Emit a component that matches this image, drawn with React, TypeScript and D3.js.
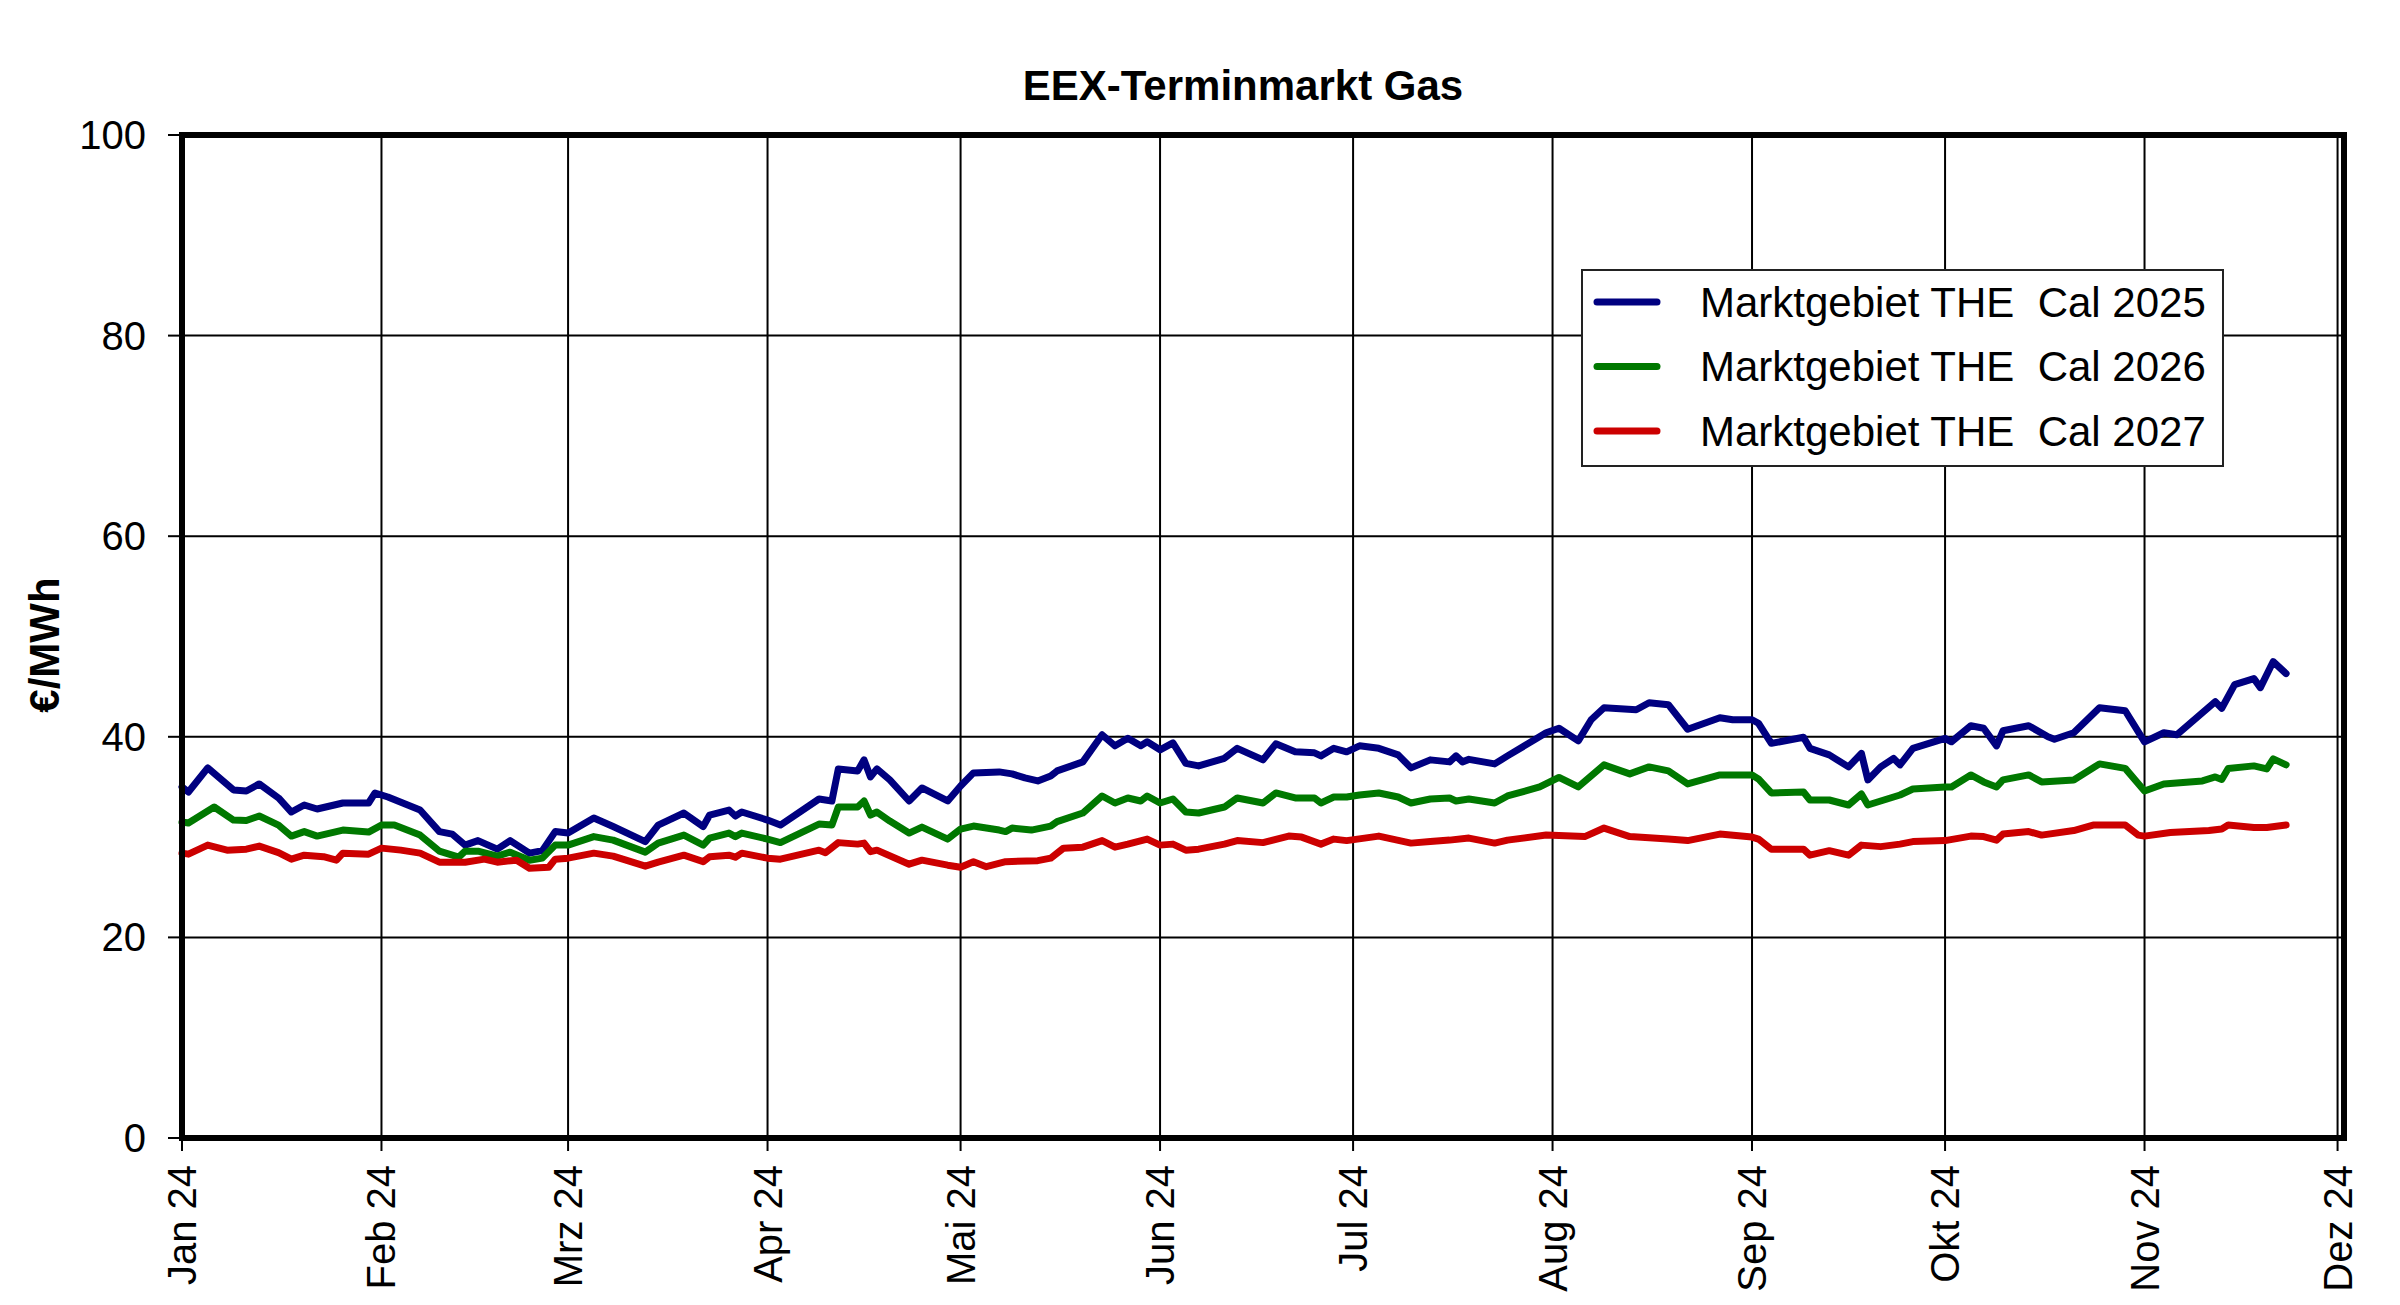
import React, { useEffect } from "react";
import * as d3 from "d3";

const title = "EEX-Terminmarkt Gas";
const yLabel = "€/MWh";
const yTicks = [0, 20, 40, 60, 80, 100];
const monthStarts = ["2024-01-01","2024-02-01","2024-03-01","2024-04-01","2024-05-01","2024-06-01","2024-07-01","2024-08-01","2024-09-01","2024-10-01","2024-11-01","2024-12-01"];
const monthLabels = ["Jan 24","Feb 24","Mrz 24","Apr 24","Mai 24","Jun 24","Jul 24","Aug 24","Sep 24","Okt 24","Nov 24","Dez 24"];
const xDomain = ["2024-01-01", "2024-12-02"];
const seriesNames = ["Marktgebiet THE  Cal 2025", "Marktgebiet THE  Cal 2026", "Marktgebiet THE  Cal 2027"];
const seriesColors = ["#000080", "#007800", "#cc0000"];

const cal2025: [string, number][] = [
["2024-01-01",35.0],["2024-01-02",34.5],["2024-01-05",36.9],["2024-01-09",34.7],["2024-01-11",34.6],["2024-01-13",35.3],["2024-01-16",33.9],["2024-01-18",32.5],["2024-01-20",33.2],["2024-01-22",32.8],["2024-01-26",33.4],["2024-01-30",33.4],["2024-01-31",34.4],["2024-02-02",34.0],["2024-02-07",32.7],["2024-02-10",30.55],["2024-02-12",30.3],["2024-02-14",29.2],["2024-02-16",29.65],["2024-02-19",28.8],["2024-02-21",29.65],["2024-02-24",28.4],["2024-02-26",28.65],["2024-02-28",30.55],["2024-03-01",30.4],["2024-03-05",31.9],["2024-03-08",31.05],["2024-03-13",29.55],["2024-03-15",31.2],["2024-03-19",32.4],["2024-03-22",31.05],["2024-03-23",32.2],["2024-03-26",32.7],["2024-03-27",32.1],["2024-03-28",32.5],["2024-04-01",31.7],["2024-04-03",31.2],["2024-04-09",33.8],["2024-04-11",33.6],["2024-04-12",36.8],["2024-04-15",36.6],["2024-04-16",37.7],["2024-04-17",36.0],["2024-04-18",36.8],["2024-04-20",35.7],["2024-04-23",33.6],["2024-04-25",34.9],["2024-04-29",33.6],["2024-05-01",35.1],["2024-05-03",36.4],["2024-05-07",36.5],["2024-05-09",36.3],["2024-05-11",35.9],["2024-05-13",35.6],["2024-05-15",36.1],["2024-05-16",36.6],["2024-05-20",37.5],["2024-05-23",40.2],["2024-05-25",39.1],["2024-05-27",39.85],["2024-05-29",39.1],["2024-05-30",39.5],["2024-06-01",38.7],["2024-06-03",39.4],["2024-06-05",37.35],["2024-06-07",37.1],["2024-06-11",37.85],["2024-06-13",38.85],["2024-06-17",37.7],["2024-06-19",39.3],["2024-06-22",38.5],["2024-06-25",38.4],["2024-06-26",38.1],["2024-06-28",38.85],["2024-06-30",38.5],["2024-07-02",39.1],["2024-07-05",38.85],["2024-07-08",38.2],["2024-07-10",36.9],["2024-07-13",37.7],["2024-07-16",37.5],["2024-07-17",38.1],["2024-07-18",37.5],["2024-07-19",37.75],["2024-07-23",37.3],["2024-07-25",38.1],["2024-07-31",40.4],["2024-08-02",40.85],["2024-08-05",39.6],["2024-08-07",41.7],["2024-08-09",42.9],["2024-08-14",42.7],["2024-08-16",43.4],["2024-08-19",43.2],["2024-08-22",40.75],["2024-08-27",41.9],["2024-08-29",41.7],["2024-09-01",41.7],["2024-09-02",41.35],["2024-09-04",39.35],["2024-09-09",39.95],["2024-09-10",38.85],["2024-09-13",38.2],["2024-09-16",37.0],["2024-09-18",38.35],["2024-09-19",35.7],["2024-09-21",37.0],["2024-09-23",37.85],["2024-09-24",37.2],["2024-09-26",38.85],["2024-10-01",39.85],["2024-10-02",39.5],["2024-10-05",41.1],["2024-10-07",40.85],["2024-10-09",39.1],["2024-10-10",40.6],["2024-10-14",41.1],["2024-10-17",40.0],["2024-10-18",39.75],["2024-10-21",40.4],["2024-10-25",42.9],["2024-10-29",42.6],["2024-11-01",39.5],["2024-11-04",40.4],["2024-11-06",40.2],["2024-11-12",43.5],["2024-11-13",42.85],["2024-11-15",45.2],["2024-11-18",45.8],["2024-11-19",44.9],["2024-11-21",47.5],["2024-11-23",46.3]
];

const cal2026: [string, number][] = [
["2024-01-01",31.5],["2024-01-02",31.4],["2024-01-06",33.0],["2024-01-09",31.7],["2024-01-11",31.65],["2024-01-13",32.1],["2024-01-16",31.2],["2024-01-18",30.1],["2024-01-20",30.55],["2024-01-22",30.1],["2024-01-26",30.7],["2024-01-30",30.5],["2024-02-01",31.2],["2024-02-03",31.2],["2024-02-07",30.2],["2024-02-10",28.6],["2024-02-13",28.0],["2024-02-14",28.6],["2024-02-16",28.6],["2024-02-19",28.1],["2024-02-21",28.5],["2024-02-24",27.7],["2024-02-26",27.9],["2024-02-28",29.2],["2024-03-01",29.2],["2024-03-05",30.05],["2024-03-08",29.7],["2024-03-13",28.5],["2024-03-15",29.4],["2024-03-19",30.2],["2024-03-22",29.2],["2024-03-23",29.9],["2024-03-26",30.4],["2024-03-27",30.05],["2024-03-28",30.4],["2024-04-01",29.8],["2024-04-03",29.45],["2024-04-09",31.3],["2024-04-11",31.2],["2024-04-12",33.0],["2024-04-15",33.0],["2024-04-16",33.6],["2024-04-17",32.2],["2024-04-18",32.5],["2024-04-20",31.6],["2024-04-23",30.4],["2024-04-25",31.0],["2024-04-29",29.8],["2024-05-01",30.8],["2024-05-03",31.1],["2024-05-07",30.7],["2024-05-08",30.55],["2024-05-09",30.9],["2024-05-12",30.7],["2024-05-15",31.1],["2024-05-16",31.55],["2024-05-20",32.4],["2024-05-23",34.1],["2024-05-25",33.4],["2024-05-27",33.9],["2024-05-29",33.6],["2024-05-30",34.1],["2024-06-01",33.4],["2024-06-03",33.8],["2024-06-05",32.5],["2024-06-07",32.4],["2024-06-11",33.0],["2024-06-13",33.9],["2024-06-17",33.4],["2024-06-19",34.4],["2024-06-22",33.9],["2024-06-25",33.9],["2024-06-26",33.4],["2024-06-28",34.0],["2024-06-30",34.0],["2024-07-02",34.2],["2024-07-05",34.4],["2024-07-08",34.0],["2024-07-10",33.4],["2024-07-13",33.8],["2024-07-16",33.9],["2024-07-17",33.6],["2024-07-19",33.8],["2024-07-23",33.4],["2024-07-25",34.1],["2024-07-30",35.0],["2024-08-02",35.95],["2024-08-05",35.0],["2024-08-09",37.2],["2024-08-13",36.3],["2024-08-16",37.0],["2024-08-19",36.6],["2024-08-22",35.3],["2024-08-27",36.2],["2024-09-01",36.2],["2024-09-02",35.8],["2024-09-04",34.4],["2024-09-09",34.5],["2024-09-10",33.7],["2024-09-13",33.7],["2024-09-16",33.2],["2024-09-18",34.3],["2024-09-19",33.2],["2024-09-22",33.8],["2024-09-24",34.2],["2024-09-26",34.8],["2024-10-01",35.0],["2024-10-02",35.0],["2024-10-05",36.2],["2024-10-07",35.5],["2024-10-09",35.0],["2024-10-10",35.7],["2024-10-14",36.2],["2024-10-16",35.5],["2024-10-21",35.7],["2024-10-25",37.3],["2024-10-29",36.85],["2024-11-01",34.6],["2024-11-04",35.3],["2024-11-10",35.6],["2024-11-12",36.0],["2024-11-13",35.75],["2024-11-14",36.85],["2024-11-18",37.1],["2024-11-20",36.8],["2024-11-21",37.8],["2024-11-23",37.2]
];

const cal2027: [string, number][] = [
["2024-01-01",28.4],["2024-01-02",28.3],["2024-01-05",29.2],["2024-01-08",28.7],["2024-01-11",28.8],["2024-01-13",29.1],["2024-01-16",28.45],["2024-01-18",27.8],["2024-01-20",28.2],["2024-01-23",28.05],["2024-01-25",27.7],["2024-01-26",28.4],["2024-01-30",28.3],["2024-02-01",28.9],["2024-02-04",28.7],["2024-02-07",28.4],["2024-02-10",27.5],["2024-02-14",27.5],["2024-02-17",27.8],["2024-02-19",27.5],["2024-02-22",27.7],["2024-02-24",26.9],["2024-02-27",27.0],["2024-02-28",27.8],["2024-03-01",27.9],["2024-03-05",28.4],["2024-03-08",28.1],["2024-03-13",27.1],["2024-03-15",27.5],["2024-03-19",28.2],["2024-03-22",27.55],["2024-03-23",28.05],["2024-03-26",28.2],["2024-03-27",28.0],["2024-03-28",28.4],["2024-04-01",27.9],["2024-04-03",27.8],["2024-04-09",28.7],["2024-04-10",28.45],["2024-04-12",29.45],["2024-04-15",29.3],["2024-04-16",29.4],["2024-04-17",28.55],["2024-04-18",28.7],["2024-04-23",27.3],["2024-04-25",27.7],["2024-04-29",27.2],["2024-05-01",27.0],["2024-05-03",27.55],["2024-05-05",27.05],["2024-05-08",27.55],["2024-05-13",27.65],["2024-05-15",27.9],["2024-05-17",28.9],["2024-05-20",29.0],["2024-05-23",29.65],["2024-05-25",29.0],["2024-05-27",29.3],["2024-05-30",29.8],["2024-06-01",29.2],["2024-06-03",29.3],["2024-06-05",28.7],["2024-06-07",28.8],["2024-06-11",29.3],["2024-06-13",29.65],["2024-06-17",29.45],["2024-06-21",30.1],["2024-06-23",30.0],["2024-06-26",29.3],["2024-06-28",29.8],["2024-06-30",29.65],["2024-07-05",30.1],["2024-07-10",29.4],["2024-07-13",29.55],["2024-07-16",29.7],["2024-07-19",29.9],["2024-07-23",29.4],["2024-07-25",29.7],["2024-07-31",30.2],["2024-08-06",30.05],["2024-08-09",30.9],["2024-08-13",30.05],["2024-08-19",29.8],["2024-08-22",29.65],["2024-08-27",30.3],["2024-09-01",30.0],["2024-09-02",29.8],["2024-09-04",28.8],["2024-09-09",28.8],["2024-09-10",28.2],["2024-09-13",28.65],["2024-09-16",28.2],["2024-09-18",29.2],["2024-09-21",29.05],["2024-09-24",29.3],["2024-09-26",29.55],["2024-10-01",29.65],["2024-10-05",30.1],["2024-10-07",30.05],["2024-10-09",29.7],["2024-10-10",30.3],["2024-10-14",30.55],["2024-10-16",30.2],["2024-10-21",30.65],["2024-10-24",31.2],["2024-10-29",31.2],["2024-10-31",30.2],["2024-11-01",30.1],["2024-11-05",30.45],["2024-11-11",30.65],["2024-11-13",30.8],["2024-11-14",31.2],["2024-11-18",30.95],["2024-11-20",30.95],["2024-11-23",31.2]
];

const W = 2400;
const H = 1305;
const M = { left: 182, right: 2344, top: 135, bottom: 1138 };
const FONT = "'Liberation Sans', Arial, Helvetica, sans-serif";

export default function App() {
  useEffect(() => {
    document.body.style.margin = "0";
  }, []);

  const parse = d3.timeParse("%Y-%m-%d");
  const x = d3.scaleTime()
    .domain([parse(xDomain[0]) as Date, parse(xDomain[1]) as Date])
    .range([M.left, M.right]);
  const y = d3.scaleLinear().domain([0, 100]).range([M.bottom, M.top]);

  const line = d3.line<[string, number]>()
    .x((d) => x(parse(d[0]) as Date))
    .y((d) => y(d[1]));

  const allSeries = [cal2025, cal2026, cal2027];
  const months = monthStarts.map((s) => parse(s) as Date);

  const legend = { x: 1582, y: 270, w: 641, h: 196, row0: 302, rowStep: 64.5 };

  return (
    <svg width={W} height={H} style={{ position: "absolute", left: 0, top: 0, background: "#fff" }}>
      <rect x={0} y={0} width={W} height={H} fill="#fff" />
      <text x={1243} y={100} textAnchor="middle" fontFamily={FONT} fontWeight="bold" fontSize={42} fill="#000">{title}</text>

      {/* horizontal gridlines */}
      {yTicks.map((t) => (
        <g key={"y" + t}>
          {t > 0 && t < 100 && (
            <line x1={M.left} x2={M.right} y1={y(t)} y2={y(t)} stroke="#000" strokeWidth={2} />
          )}
          <line x1={M.left - 14} x2={M.left} y1={y(t)} y2={y(t)} stroke="#000" strokeWidth={2} />
          <text x={146} y={y(t)} textAnchor="end" dominantBaseline="central" fontFamily={FONT} fontSize={40} fill="#000">{t}</text>
        </g>
      ))}

      {/* vertical gridlines & month labels */}
      {months.map((m, i) => (
        <g key={"m" + i}>
          {i > 0 && (
            <line x1={x(m)} x2={x(m)} y1={M.top} y2={M.bottom} stroke="#000" strokeWidth={2} />
          )}
          <line x1={x(m)} x2={x(m)} y1={M.bottom} y2={M.bottom + 13} stroke="#000" strokeWidth={2} />
          <text
            transform={`translate(${x(m)},${1165}) rotate(-90)`}
            textAnchor="end"
            dominantBaseline="central"
            fontFamily={FONT}
            fontSize={40}
            fill="#000"
          >{monthLabels[i]}</text>
        </g>
      ))}

      {/* data lines */}
      {allSeries.map((s, i) => (
        <path key={"s" + i} d={line(s) || ""} fill="none" stroke={seriesColors[i]} strokeWidth={7} strokeLinejoin="round" strokeLinecap="round" />
      ))}

      {/* legend */}
      <rect x={legend.x} y={legend.y} width={legend.w} height={legend.h} fill="#fff" stroke="#222" strokeWidth={2} />
      {seriesNames.map((n, i) => {
        const ry = legend.row0 + i * legend.rowStep;
        return (
          <g key={"l" + i}>
            <line x1={1597} x2={1657} y1={ry} y2={ry} stroke={seriesColors[i]} strokeWidth={7} strokeLinecap="round" />
            <text x={1700} y={ry} dominantBaseline="central" fontFamily={FONT} fontSize={42} fill="#000" style={{ whiteSpace: "pre" }}>{n}</text>
          </g>
        );
      })}

      {/* plot border */}
      <rect x={M.left} y={M.top} width={M.right - M.left} height={M.bottom - M.top} fill="none" stroke="#000" strokeWidth={6} />

      {/* y label */}
      <text transform={`translate(44,645) rotate(-90)`} textAnchor="middle" dominantBaseline="central" fontFamily={FONT} fontWeight="bold" fontSize={42} fill="#000">{yLabel}</text>
    </svg>
  );
}
